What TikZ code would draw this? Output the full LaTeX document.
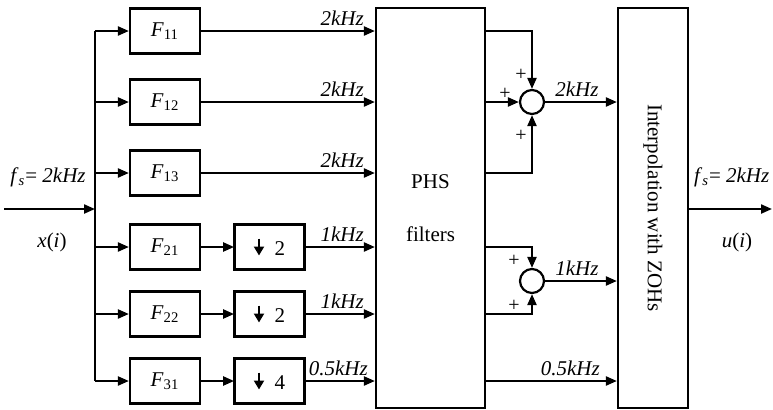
\documentclass[tikz,border=0pt]{standalone}
\usepackage{fontspec}
\setmainfont{Liberation Serif}
\usetikzlibrary{positioning, arrows.meta}
\tikzset{
  blk/.style={draw, minimum width=35pt, minimum height=22.5pt, inner sep=1pt},
  big/.style={draw, minimum width=54.5pt, minimum height=200pt, align=center},
  sumc/.style={draw, circle, minimum size=12pt, inner sep=0pt},
  rate/.style={font=\itshape, inner sep=2pt},
  sgn/.style={font=\normalsize, inner sep=0pt},
}
\newcommand{\dnarr}{\tikz[baseline=0pt]\draw[line width=1.1pt,-{Triangle[length=4.5pt,width=5pt]}] (0pt,8.5pt) -- (0pt,0pt);}

\begin{document}
\fontsize{10.5}{12.6}\selectfont
\begin{tikzpicture}[x=0.5pt, y=-0.5pt, line width=1.1pt, >={Triangle[length=5.5pt,width=4.5pt]}]
  \useasboundingbox (0,0) rectangle (773,409);
  % filter bank
  \node[blk] (F11) at (165,31) {\textit{F}\textsubscript{11}};
  \node[blk] (F12) at (165,102) {\textit{F}\textsubscript{12}};
  \node[blk] (F13) at (165,173) {\textit{F}\textsubscript{13}};
  \node[blk] (F21) at (165,247) {\textit{F}\textsubscript{21}};
  \node[blk] (F22) at (165,314) {\textit{F}\textsubscript{22}};
  \node[blk] (F31) at (165,381) {\textit{F}\textsubscript{31}};
  \node[blk, right=16.5pt of F21] (D21) {\dnarr\ \ 2};
  \node[blk, right=16.5pt of F22] (D22) {\dnarr\ \ 2};
  \node[blk, right=16.5pt of F31] (D31) {\dnarr\ \ 4};
  \draw[->] (F21) -- (D21); \draw[->] (F22) -- (D22); \draw[->] (F31) -- (D31);
  % input and bus
  \coordinate (xin) at (4,209);
  \coordinate (bus) at (95,209);
  \draw[->] (xin) -- (bus);
  \draw (bus |- F11) -- (bus |- F31);
  \draw[->] (bus |- F11) -- (F11); \draw[->] (bus |- F12) -- (F12); \draw[->] (bus |- F13) -- (F13);
  \draw[->] (bus |- F21) -- (F21); \draw[->] (bus |- F22) -- (F22); \draw[->] (bus |- F31) -- (F31);
  \node (fsin) at (48,177) {\textit{f}\textsubscript{\textit{s}}= \textit{2kHz}};
  \node (xi) at (52,242) {\textit{x}(\textit{i})};
  % PHS filters
  \node[big] (PHS) at (430.5,208) {PHS\\[14pt]filters};
  \draw[->] (F11) -- (F11 -| PHS.west) node[rate, pos=1, above left, xshift=-3pt] {2kHz};
  \draw[->] (F12) -- (F12 -| PHS.west) node[rate, pos=1, above left, xshift=-3pt] {2kHz};
  \draw[->] (F13) -- (F13 -| PHS.west) node[rate, pos=1, above left, xshift=-3pt] {2kHz};
  \draw[->] (D21) -- (D21 -| PHS.west) node[rate, pos=1, above left, xshift=-3pt] {1kHz};
  \draw[->] (D22) -- (D22 -| PHS.west) node[rate, pos=1, above left, xshift=-3pt] {1kHz};
  \draw[->] (D31) -- (D31 -| PHS.west) node[rate, pos=1, above left, xshift=-1pt] {0.5kHz};
  % interpolation
  \node[big, minimum width=35pt, label={[rotate=-90]center:Interpolation with ZOHs}] (ZOH) at (653,208) {};
  % sums
  \node[sumc] (S1) at (532,102) {};
  \node[sumc] (S2) at (532,281) {};
  \draw[->] (PHS.east |- F11) -| (S1);
  \draw[->] (PHS.east |- F12) -- (S1);
  \draw[->] (PHS.east |- F13) -| (S1);
  \draw[->] (PHS.east |- D21) -| (S2);
  \draw[->] (PHS.east |- D22) -| (S2);
  \node[sgn] (p11) at ([shift={(-11,-27)}]S1.center) {+};
  \node[sgn] (p12) at ([shift={(-27,-8)}]S1.center) {+};
  \node[sgn] (p13) at ([shift={(-11,34)}]S1.center) {+};
  \node[sgn] (p21) at ([shift={(-18,-20)}]S2.center) {+};
  \node[sgn] (p22) at ([shift={(-18,25)}]S2.center) {+};
  \draw[->] (S1) -- (S1 -| ZOH.west) node[rate, midway, above, xshift=-2pt] {2kHz};
  \draw[->] (S2) -- (S2 -| ZOH.west) node[rate, midway, above, xshift=-2pt] {1kHz};
  \draw[->] (PHS.east |- D31) -- (ZOH.west |- D31) node[rate, pos=1, above left, xshift=-6pt] {0.5kHz};
  % output
  \coordinate (yout) at (772,209);
  \draw[->] (ZOH.east |- bus) -- (yout);
  \node[anchor=west] (fsout) at (686,177) {\textit{f}\textsubscript{\textit{s}}= \textit{2kHz}};
  \node (ui) at (737,242) {\textit{u}(\textit{i})};
\end{tikzpicture}
\end{document}
